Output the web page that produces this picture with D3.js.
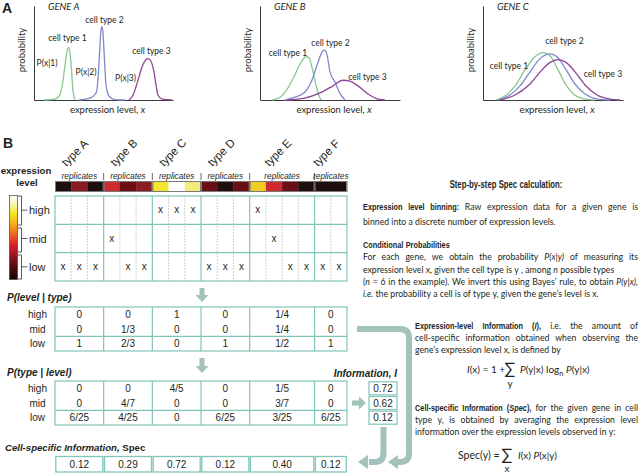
<!DOCTYPE html>
<html>
<head>
<meta charset="utf-8">
<script src="https://d3js.org/d3.v7.min.js"></script>
<style>
  body { margin: 0; background: #fff; }
  svg { display: block; }
  text { fill: #231f20; }
  .hel { font-family: "Liberation Sans", Arial, sans-serif; }
  .myr { font-family: Lato, "Open Sans", sans-serif; }
</style>
</head>
<body>
<svg width="640" height="473"></svg>
<script>
// ---------- panel A : curves (expression level 0-10, probability 0-1)
var geneA1 = [[0.72,0],[1.51,0.01],[1.87,0.06],[2.09,0.21],[2.23,0.37],[2.37,0.51],[2.48,0.56],[2.59,0.50],[2.70,0.32],[2.81,0.09],[2.95,0]];
var geneA2 = [[3.24,0],[4.03,0.02],[4.46,0.074],[4.60,0.21],[4.71,0.48],[4.82,0.745],[4.89,0.78],[4.96,0.72],[5.07,0.43],[5.18,0.16],[5.40,0.04],[5.83,0.005],[6.55,0]];
var geneA3 = [[6.83,0],[7.12,0.05],[7.48,0.21],[7.77,0.35],[8.06,0.43],[8.2,0.44],[8.42,0.41],[8.63,0.30],[8.78,0.16],[8.92,0.05],[9.21,0.01],[9.93,0]];
var geneB1 = [[0.86,0],[1.43,0.03],[2.0,0.13],[2.5,0.27],[2.93,0.40],[3.29,0.46],[3.5,0.45],[3.71,0.35],[4.0,0.16],[4.29,0.02],[4.43,0]];
var geneB2 = [[1.79,0],[2.5,0.03],[3.21,0.085],[3.71,0.21],[4.14,0.40],[4.43,0.51],[4.61,0.53],[4.79,0.48],[5.0,0.30],[5.36,0.19],[5.71,0.07],[6.07,0]];
var geneB3 = [[2.0,0],[3.21,0.02],[4.29,0.075],[5.21,0.15],[5.93,0.21],[6.43,0.2],[7.0,0.15],[7.71,0.064],[8.43,0.01],[8.93,0]];
var geneC1 = [[0.93,0],[1.57,0.043],[2.29,0.15],[3.0,0.32],[3.71,0.46],[4.29,0.505],[4.79,0.47],[5.36,0.32],[5.93,0.16],[6.57,0.05],[7.29,0.01],[8.0,0]];
var geneC2 = [[1.07,0],[1.93,0.053],[2.64,0.15],[3.36,0.30],[4.07,0.44],[4.79,0.49],[5.29,0.46],[5.86,0.34],[6.57,0.17],[7.29,0.064],[8.21,0.01],[9.07,0]];
var geneC3 = [[1.21,0],[2.29,0.053],[3.36,0.17],[4.21,0.32],[4.79,0.40],[5.36,0.43],[5.93,0.40],[6.57,0.30],[7.29,0.16],[8.14,0.053],[9.07,0.01],[9.79,0]];
var geneNames = ["GENE A", "GENE B", "GENE C"];
var cellTypes = ["cell type 1", "cell type 2", "cell type 3"];
var condLabels = ["P(x|1)", "P(x|2)", "P(x|3)"];
var curveColors = ["#86c991", "#7f89c8", "#8e4497"];

// ---------- panel B
var types = ["type A", "type B", "type C", "type D", "type E", "type F"];
var replicateType = [0,0,0, 1,1,1, 2,2,2, 3,3,3, 4,4,4,4, 5,5];
var replicateColor = ["#1f0e0e","#8a1c21","#1f0e0e", "#cf2a2f","#6c0f14","#8e1d23", "#f3e731","#ffffff","#f4ec7a",
                      "#6a0f13","#1f0e0e","#6a0f13", "#f1cc21","#cf2a2f","#6c0f14","#1f0e0e", "#1f0e0e","#1f0e0e"];
var replicateLevel = ["low","low","low", "mid","low","low", "high","high","high", "low","low","low",
                      "high","mid","low","low", "low","low"];
var levels = ["high", "mid", "low"];
var pLevelType = [["0","0","1","0","1/4","0"], ["0","1/3","0","0","1/4","0"], ["1","2/3","0","1","1/2","1"]];
var pTypeLevel = [["0","0","4/5","0","1/5","0"], ["0","4/7","0","0","3/7","0"], ["6/25","4/25","0","6/25","3/25","6/25"]];
var infoI = ["0.72", "0.62", "0.12"];
var specValues = ["0.12", "0.29", "0.72", "0.12", "0.40", "0.12"];

// ---------- right hand text
var stepTitle = [["Step-by-step  Spec calculation:","b"]];
var para1 = [
  [["Expression level binning:","b"],[" Raw expression data for a given gene is","r"]],
  [["binned into a discrete number of expression levels.","r"]]
];
var para2 = [
  [["Conditional Probabilities","b"]],
  [["For each gene, we obtain the probability ","r"],["P(x|y)","i"],[" of measuring its","r"]],
  [["expression level x, given the cell type is y , among ","r"],["n","i"],[" possible types","r"]],
  [["(","r"],["n","i"],[" = 6 in the example).  We invert this using Bayes\u2019 rule, to obtain ","r"],["P(y|x),","i"]],
  [["i.e.","i"],[" the probability a cell is of type y, given the gene\u2019s level is x.","r"]]
];
var para3 = [
  [["Expression-level Information (","b"],["I","bi"],["),","b"],["  i.e. the amount of","r"]],
  [["cell-specific information obtained when observing the","r"]],
  [["gene\u2019s expression level x, is defined by","r"]]
];
var para4 = [
  [["Cell-specific Information (","b"],["Spec","bi"],["),","b"],[" for the given gene in cell","r"]],
  [["type y, is obtained by averaging the expression level","r"]],
  [["information over the expression levels observed in y:","r"]]
];

var svg = d3.select("svg");
var teal = "#7fc5b8", arrowCol = "#a2c2bb";

// ================= panel A =================
svg.append("text").attr("class","hel").attr("x",2).attr("y",13)
   .attr("font-size",14).attr("font-weight","bold").text("A");

var genes = [
  {ox:34, x1:173, curves:[geneA1,geneA2,geneA3],
   lab:[[33.5,38],[70.5,20],[117.5,51]], cond:[[13,63],[52,72],[91.5,78]]},
  {ox:260, x1:400, curves:[geneB1,geneB2,geneB3],
   lab:[[28,53],[70.5,43],[107.5,77]], cond:null},
  {ox:483, x1:623, curves:[geneC1,geneC2,geneC3],
   lab:[[26,66],[81.5,41],[120,74]], cond:null}
];

genes.forEach(function(g, gi) {
  var x = d3.scaleLinear().domain([0,10]).range([g.ox, g.x1]);
  var y = d3.scaleLinear().domain([0,1]).range([100, 6]);
  var ax = svg.append("g");
  ax.append("g").attr("transform","translate(0,100)")
    .call(d3.axisBottom(x).ticks(0).tickSizeOuter(0));
  ax.append("g").attr("transform","translate("+g.ox+",0)")
    .call(d3.axisLeft(y).ticks(0).tickSizeOuter(0));
  ax.selectAll(".domain").attr("stroke","#3a3a3a").attr("stroke-width",1);

  var line = d3.line().x(function(d){return x(d[0]);}).y(function(d){return y(d[1]);})
               .curve(d3.curveMonotoneX);
  g.curves.forEach(function(c, ci) {
    svg.append("path").datum(c).attr("d", line).attr("fill","none")
       .attr("stroke", curveColors[ci]).attr("stroke-width",1.3);
  });

  svg.append("text").attr("class","myr").attr("x",g.ox+14).attr("y",10)
     .attr("font-size",9.5).attr("font-style","italic").text(geneNames[gi]);
  svg.append("text").attr("class","myr")
     .attr("transform","translate("+(g.ox-9)+",50) rotate(-90)")
     .attr("text-anchor","middle").attr("font-size",9.5).text("probability");
  var xl = svg.append("text").attr("class","myr").attr("x",(g.ox+g.x1)/2+4).attr("y",113)
     .attr("text-anchor","middle").attr("font-size",9.5);
  xl.append("tspan").text("expression level, ");
  xl.append("tspan").attr("font-style","italic").text("x");

  g.lab.forEach(function(p, i) {
    svg.append("text").attr("class","myr").attr("x",g.ox+p[0]).attr("y",p[1]+3)
       .attr("text-anchor","middle").attr("font-size",8.5).text(cellTypes[i]);
  });
  if (g.cond) g.cond.forEach(function(p, i) {
    svg.append("text").attr("class","myr").attr("x",g.ox+p[0]).attr("y",p[1]+3)
       .attr("text-anchor","middle").attr("font-size",8.5).text(condLabels[i]);
  });
});

// ================= panel B =================
svg.append("text").attr("class","hel").attr("x",3).attr("y",148)
   .attr("font-size",14).attr("font-weight","bold").text("B");

var xRep = d3.scaleBand().domain(d3.range(replicateType.length)).range([55,347]);
var bw = xRep.bandwidth();
var spans = types.map(function(t, ti) {
  var idx = d3.range(replicateType.length).filter(function(j){return replicateType[j]===ti;});
  return {x0:xRep(idx[0]), x1:xRep(idx[idx.length-1])+bw, n:idx.length};
});
spans.forEach(function(s){ s.cx = (s.x0+s.x1)/2; });

// column headers
types.forEach(function(t, ti) {
  svg.append("text").attr("class","hel")
     .attr("transform","translate("+(spans[ti].cx-13)+",167) rotate(-45)")
     .attr("font-size",11.5).text(t);
  svg.append("text").attr("class","hel").attr("x",spans[ti].cx).attr("y",179)
     .attr("text-anchor","middle").attr("font-size",8.3).attr("font-style","italic")
     .attr("fill","#333").text("replicates");
  if (ti < types.length-1)
    svg.append("line").attr("x1",spans[ti].x1).attr("x2",spans[ti].x1).attr("y1",173).attr("y2",180)
       .attr("stroke","#444").attr("stroke-width",0.8);
});

// heat row
svg.append("g").selectAll("rect").data(replicateColor).join("rect")
   .attr("x", function(d,i){return xRep(i);}).attr("y",181)
   .attr("width", bw+0.3).attr("height",11).attr("fill", function(d){return d;});
spans.forEach(function(s) {
  svg.append("rect").attr("x",s.x0+0.5).attr("y",181.5).attr("width",s.x1-s.x0-1).attr("height",10)
     .attr("fill","none").attr("stroke","#7a7a7a").attr("stroke-width",1);
});

// expression level legend
svg.append("text").attr("class","hel").attr("x",26).attr("y",174).attr("text-anchor","middle")
   .attr("font-size",9.6).attr("font-weight","bold").text("expression");
svg.append("text").attr("class","hel").attr("x",27).attr("y",186).attr("text-anchor","middle")
   .attr("font-size",9.6).attr("font-weight","bold").text("level");
var grad = svg.append("defs").append("linearGradient").attr("id","heat")
   .attr("x1",0).attr("x2",0).attr("y1",0).attr("y2",1);
[[0,"#ffffff"],[0.1,"#fbf4b4"],[0.22,"#f5e422"],[0.36,"#f4a21c"],[0.48,"#ec5b20"],[0.58,"#d7262a"],
 [0.7,"#a0161d"],[0.84,"#560c0f"],[1,"#150404"]].forEach(function(s) {
  grad.append("stop").attr("offset",s[0]).attr("stop-color",s[1]);
});
svg.append("rect").attr("x",9.5).attr("y",195.5).attr("width",8).attr("height",84)
   .attr("fill","url(#heat)").attr("stroke","#444").attr("stroke-width",0.7);

var yLev = d3.scaleBand().domain(levels).range([196,281]);
var brackets = [[196,225],[228,252],[255,279]];
levels.forEach(function(l, i) {
  var b = brackets[i], m = yLev(l)+yLev.bandwidth()/2;
  svg.append("path").attr("d","M18,"+b[0]+"H21.5V"+b[1]+"H18M21.5,"+m+"H27.5")
     .attr("fill","none").attr("stroke","#333").attr("stroke-width",0.8);
  svg.append("text").attr("class","hel").attr("x",29).attr("y",m+4).attr("font-size",11).text(l);
});

// grid of replicates
var grid = svg.append("g");
d3.range(1, replicateType.length).forEach(function(j) {
  if (replicateType[j] !== replicateType[j-1]) return;
  grid.append("line").attr("x1",xRep(j)).attr("x2",xRep(j)).attr("y1",196).attr("y2",281)
      .attr("stroke","#c4c4c4").attr("stroke-width",0.8).attr("stroke-dasharray","2,1");
});
["mid","low"].forEach(function(l) {
  grid.append("line").attr("x1",55).attr("x2",347).attr("y1",yLev(l)).attr("y2",yLev(l))
      .attr("stroke",teal).attr("stroke-width",1.2);
});
spans.slice(0,-1).forEach(function(s) {
  grid.append("line").attr("x1",s.x1).attr("x2",s.x1).attr("y1",196).attr("y2",281)
      .attr("stroke",teal).attr("stroke-width",1.2);
});
grid.append("rect").attr("x",55).attr("y",196).attr("width",292).attr("height",85)
    .attr("fill","none").attr("stroke",teal).attr("stroke-width",1.2);
grid.selectAll("text.mark").data(replicateLevel).join("text").attr("class","hel")
    .attr("x", function(d,i){return xRep(i)+bw/2;})
    .attr("y", function(d){return yLev(d)+yLev.bandwidth()/2+3;})
    .attr("text-anchor","middle").attr("font-size",10).text("x");

// arrows
function downArrow(cx, y0, y1) {
  svg.append("path").attr("fill",arrowCol)
     .attr("d","M"+(cx-2.5)+","+y0+"V"+(y1-7)+"H"+(cx-6.5)+"L"+cx+","+y1+"L"+(cx+6.5)+","+(y1-7)+"H"+(cx+2.5)+"V"+y0+"Z");
}
function rightArrow(x0, x1, cy) {
  svg.append("path").attr("fill",arrowCol)
     .attr("d","M"+x0+","+(cy-2.5)+"H"+(x1-7)+"V"+(cy-6.5)+"L"+x1+","+cy+"L"+(x1-7)+","+(cy+6.5)+"V"+(cy+2.5)+"H"+x0+"Z");
}
function leftHead(tip, cy) {
  svg.append("path").attr("fill",arrowCol)
     .attr("d","M"+tip+","+cy+"L"+(tip+10)+","+(cy-7)+"V"+(cy+7)+"Z");
}
downArrow(202, 288, 302);
downArrow(202, 358, 373);
rightArrow(352, 366, 403);

// probability tables
function table(y0, y1, rows) {
  var yT = d3.scaleBand().domain(levels).range([y0, y1]);
  var g = svg.append("g");
  levels.forEach(function(l, li) {
    var cy = yT(l)+yT.bandwidth()/2+3.5;
    g.append("text").attr("class","hel").attr("x",37.5).attr("y",cy).attr("text-anchor","middle")
     .attr("font-size",10).text(l);
    rows[li].forEach(function(v, ti) {
      g.append("text").attr("class","hel").attr("x",spans[ti].cx).attr("y",cy)
       .attr("text-anchor","middle").attr("font-size",10).text(v);
    });
  });
  g.append("line").attr("x1",55).attr("x2",347).attr("y1",yT("low")).attr("y2",yT("low"))
   .attr("stroke",teal).attr("stroke-width",1.2);
  spans.slice(0,-1).forEach(function(s) {
    g.append("line").attr("x1",s.x1).attr("x2",s.x1).attr("y1",y0).attr("y2",y1)
     .attr("stroke",teal).attr("stroke-width",1.2);
  });
  g.append("rect").attr("x",55).attr("y",y0).attr("width",292).attr("height",y1-y0)
   .attr("fill","none").attr("stroke",teal).attr("stroke-width",1.2);
  return yT;
}

svg.append("text").attr("class","hel").attr("x",7).attr("y",301)
   .attr("font-size",10).attr("font-weight","bold").attr("font-style","italic").text("P(level | type)");
table(307, 351, pLevelType);

svg.append("text").attr("class","hel").attr("x",7).attr("y",376)
   .attr("font-size",10).attr("font-weight","bold").attr("font-style","italic").text("P(type | level)");
var yT3 = table(381, 425, pTypeLevel);

// information column
svg.append("text").attr("class","hel").attr("x",397).attr("y",377).attr("text-anchor","end")
   .attr("font-size",10).attr("font-weight","bold").attr("font-style","italic").text("Information, I");
levels.forEach(function(l, li) {
  svg.append("rect").attr("x",369).attr("y",yT3(l)+0.8).attr("width",28).attr("height",yT3.bandwidth()-1.6)
     .attr("fill","#fff").attr("stroke",teal).attr("stroke-width",1.2);
  svg.append("text").attr("class","hel").attr("x",383).attr("y",yT3(l)+yT3.bandwidth()/2+3.5)
     .attr("text-anchor","middle").attr("font-size",10).text(infoI[li]);
});

// spec row
var sp = svg.append("text").attr("class","hel").attr("x",5).attr("y",451).attr("font-size",9.6).attr("font-weight","bold");
sp.append("tspan").attr("font-style","italic").text("Cell-specific Information,");
sp.append("tspan").text(" Spec");
specValues.forEach(function(v, ti) {
  var s = spans[ti];
  svg.append("rect").attr("x",s.x0+0.8).attr("y",456.5).attr("width",s.x1-s.x0-1.6).attr("height",15.5)
     .attr("fill","none").attr("stroke",teal).attr("stroke-width",1.3);
  svg.append("text").attr("class","hel").attr("x",s.cx).attr("y",468).attr("text-anchor","middle")
     .attr("font-size",10).text(v);
});

// bent arrows to the spec row
svg.append("path").attr("d","M357,329H400Q409,329 409,338V453Q409,462 400,462H396")
   .attr("fill","none").attr("stroke",arrowCol).attr("stroke-width",6);
leftHead(388, 462);
svg.append("path").attr("d","M383.5,427V453Q383.5,462 374.5,462H369")
   .attr("fill","none").attr("stroke",arrowCol).attr("stroke-width",6);
leftHead(358, 462);

// ================= right hand text =================
var bodySize = 8.7, boldSize = 9.8, boldK = 0.75;
function isBold(st) { return st === "b" || st === "bi"; }
function styleSpan(ts, st) {
  if (isBold(st)) ts.attr("font-family","'Liberation Sans',Arial,sans-serif").attr("font-weight","bold");
  else ts.attr("font-family","Lato,'Open Sans',sans-serif");
  if (st === "i" || st === "bi") ts.attr("font-style","italic");
}
// one line of text; each word is placed on its own so the line can be justified
function drawLine(segs, x0, x1, yb, mode, size) {
  var words = [[]];
  segs.forEach(function(s) {
    s[0].split(" ").forEach(function(p, k) {
      if (k > 0) words.push([]);
      if (p !== "") words[words.length-1].push([p, s[1]]);
    });
  });
  words = words.filter(function(w){return w.length;});
  var items = words.map(function(w) {
    var bold = w.every(function(p){return isBold(p[1]);});
    var t = svg.append("text").attr("font-size", size || (bold ? boldSize : bodySize));
    w.forEach(function(part){ styleSpan(t.append("tspan").text(part[0]), part[1]); });
    var k = bold ? boldK : 1;
    return {t:t, k:k, w:t.node().getComputedTextLength()*k};
  });
  var total = d3.sum(items, function(d){return d.w;});
  var gap = bodySize*0.26;
  if (mode === "justify" && items.length > 1) gap = Math.max(1.5, (x1 - x0 - total)/(items.length-1));
  var x = x0;
  if (mode === "center") x = (x0 + x1)/2 - (total + gap*(items.length-1))/2;
  items.forEach(function(d) {
    d.t.attr("transform","translate("+x+","+yb+") scale("+d.k+",1)");
    x += d.w + gap;
  });
}
function paragraph(lines, x0, x1, yb, lh, modes) {
  lines.forEach(function(l, i) { drawLine(l, x0, x1, yb + i*lh, modes[i]); });
}

drawLine(stepTitle, 449, 563, 188, "center", 10.3);
paragraph(para1, 363, 638, 210, 14.5, ["justify","left"]);
paragraph(para2, 363, 638, 248, 12.3, ["left","justify","left","justify","left"]);
paragraph(para3, 415, 638, 328.5, 12, ["justify","justify","left"]);
paragraph(para4, 415, 638, 410.5, 12, ["justify","justify","left"]);

// formulas
var f1 = svg.append("text").attr("class","myr").attr("x",467).attr("y",373).attr("font-size",10);
f1.append("tspan").attr("font-style","italic").text("I");
f1.append("tspan").text("(x) = 1 +");
svg.append("text").attr("class","myr").attr("x",510).attr("y",374).attr("text-anchor","middle")
   .attr("font-size",16).text("\u2211");
svg.append("text").attr("class","myr").attr("x",510).attr("y",387).attr("text-anchor","middle")
   .attr("font-size",10).text("y");
var f2 = svg.append("text").attr("class","myr").attr("x",520).attr("y",373).attr("font-size",10);
f2.append("tspan").attr("font-style","italic").text("P");
f2.append("tspan").text("(y|x) log");
f2.append("tspan").attr("font-size",7.5).attr("dy",2.5).text("n");
f2.append("tspan").attr("dy",-2.5).text(" ");
f2.append("tspan").attr("font-style","italic").text("P");
f2.append("tspan").text("(y|x)");

svg.append("text").attr("class","myr").attr("x",458).attr("y",459).attr("font-size",10.5).text("Spec(y) =");
svg.append("text").attr("class","myr").attr("x",507).attr("y",460).attr("text-anchor","middle")
   .attr("font-size",16).text("\u2211");
svg.append("text").attr("class","myr").attr("x",507).attr("y",472).attr("text-anchor","middle")
   .attr("font-size",10).text("x");
var f4 = svg.append("text").attr("class","myr").attr("x",518).attr("y",459).attr("font-size",10);
f4.append("tspan").attr("font-style","italic").text("I");
f4.append("tspan").text("(x) ");
f4.append("tspan").attr("font-style","italic").text("P");
f4.append("tspan").text("(x|y)");
</script>
</body>
</html>
